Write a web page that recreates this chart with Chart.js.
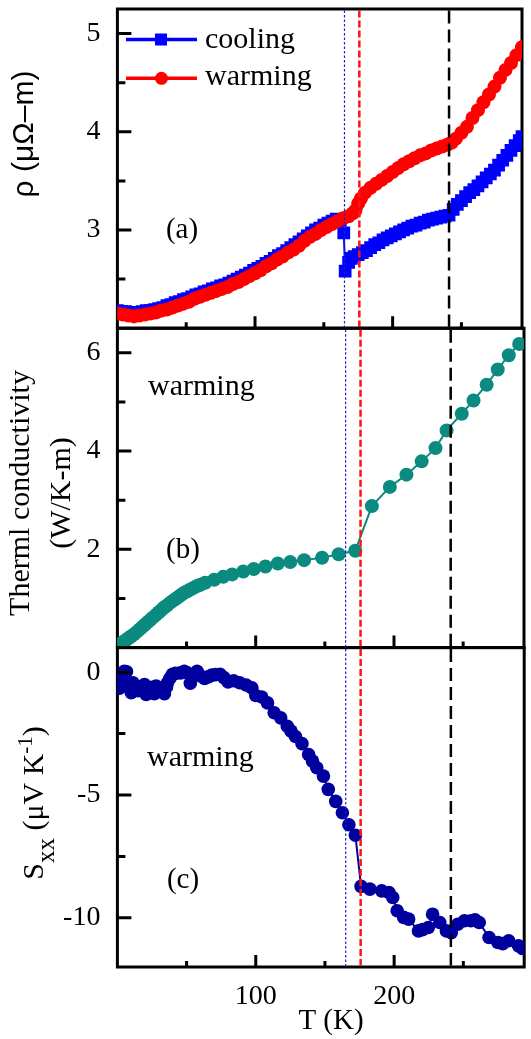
<!DOCTYPE html>
<html>
<head>
<meta charset="utf-8">
<title>rho, thermal conductivity and Sxx versus T</title>
<script src="https://cdn.jsdelivr.net/npm/chart.js@4.4.1/dist/chart.umd.min.js"></script>
<style>
  html, body { margin:0; padding:0; background:#ffffff; }
  #wrap { position:relative; width:531px; height:1039px; overflow:hidden; background:#ffffff; }
  #wrap canvas { position:absolute; left:0; top:0; width:531px; height:1039px; }
</style>
</head>
<body>
<div id="wrap">
  <canvas id="chartA" width="531" height="1039"></canvas>
  <canvas id="chartB" width="531" height="1039"></canvas>
  <canvas id="chartC" width="531" height="1039"></canvas>
</div>
<script>
// ---------------- data ----------------
const xRange = [0, 294];
const xTickLabels = [100, 200];
const xMinorTicks = [50, 150, 250];

// panel (a): resistivity, micro-ohm m
const rhoRange = [2, 5.25];
const rhoTickLabels = [3, 4, 5];
const rhoMinorTicks = [2.5, 3.5, 4.5];

const coolT = [0,3,6,9,12,15,18,21,24,27,30,33,36,39,42,45,48,51,54,57,60,63,66,69,72,75,78,81,84,87,90,93,96,99,102,105,108,111,114,117,120,123,126,129,132,135,138,141,144,147,150,153,156,159,162,164.5,165.5,168,170,172,175,178,181,184,187,190,193,196,199,202,205,208,211,214,217,220,223,226,229,232,235,238,241,244,247,250,253,256,259,262,265,268,271,274,277,280,283,286,289,292,294];
const coolRho = [2.18,2.17,2.17,2.16,2.15,2.16,2.17,2.18,2.18,2.19,2.20,2.21,2.23,2.24,2.26,2.27,2.29,2.30,2.32,2.34,2.35,2.37,2.38,2.40,2.41,2.43,2.44,2.46,2.48,2.50,2.52,2.54,2.56,2.59,2.61,2.63,2.66,2.68,2.71,2.74,2.76,2.79,2.82,2.85,2.88,2.91,2.94,2.97,3.00,3.02,3.05,3.07,3.09,3.11,3.10,2.97,2.58,2.67,2.71,2.73,2.75,2.77,2.79,2.82,2.85,2.87,2.90,2.92,2.94,2.96,2.98,3.00,3.02,3.04,3.05,3.07,3.08,3.10,3.11,3.12,3.13,3.14,3.15,3.21,3.26,3.30,3.34,3.38,3.41,3.45,3.49,3.53,3.57,3.61,3.66,3.71,3.76,3.81,3.86,3.91,3.95];

const warmT = [0,4,8,12,16,20,24,28,32,36,40,44,48,52,56,60,64,68,72,76,80,84,88,92,96,100,104,108,112,116,120,124,128,132,136,140,144,148,152,156,160,164,168,171,173,175,177,180,184,188,192,196,200,204,208,212,216,220,224,228,232,236,240,243,246,250,254,258,262,266,270,274,278,282,286,290,294];
const warmRho = [2.15,2.14,2.13,2.12,2.13,2.14,2.15,2.16,2.18,2.19,2.21,2.23,2.25,2.27,2.30,2.32,2.34,2.36,2.38,2.40,2.42,2.45,2.47,2.50,2.53,2.56,2.59,2.63,2.66,2.70,2.73,2.77,2.80,2.84,2.89,2.93,2.96,3.00,3.03,3.06,3.09,3.12,3.14,3.17,3.20,3.27,3.32,3.38,3.43,3.47,3.51,3.55,3.59,3.63,3.67,3.70,3.73,3.76,3.78,3.81,3.83,3.85,3.87,3.89,3.93,3.99,4.05,4.14,4.22,4.30,4.38,4.46,4.55,4.63,4.70,4.78,4.86];

// panel (b): thermal conductivity, W/K-m (warming)
const kRange = [0, 6.5];
const kTickLabels = [2, 4, 6];
const kMinorTicks = [1, 3, 5];
const kT = [0,2,4,6,8,10,12,14,16,18,20,22,24,26,28,30,32,34,36,38,40,42,44,46,48,50,52,54,56,58,60,63.5,70,76.5,83,91,98.6,107,116,125,135,148,160,172,184,197,209,220,230,238,249,257.5,267,275,283,290.5];
const kVal = [0.06,0.08,0.11,0.15,0.19,0.23,0.27,0.32,0.37,0.42,0.47,0.52,0.57,0.62,0.67,0.72,0.77,0.82,0.86,0.91,0.95,0.99,1.03,1.07,1.11,1.14,1.17,1.20,1.23,1.26,1.28,1.32,1.38,1.44,1.49,1.55,1.60,1.65,1.71,1.74,1.78,1.83,1.90,1.97,2.88,3.27,3.52,3.79,4.06,4.42,4.76,5.03,5.35,5.66,5.95,6.18];

// panel (c): Seebeck Sxx, microV/K (warming)
const sRange = [-12, 1];
const sTickLabels = [0, -5, -10];
const sMinorTicks = [-2.5, -7.5];
const sT = [1,1.5,3,4,5,6.6,8,10,11.3,13,15,17,19.6,20.8,23,25,26.7,28,30,32,34,35.5,36.2,38,39.8,42,45.7,48.3,50.5,52.7,54.5,57.6,60,63,66,68.2,71,74.2,77,80,84,88.4,93,97.2,100,104.3,108.5,113.3,118,122.8,125.5,128.7,133.4,138.2,141,144.1,148.9,152.4,157.8,162.6,167.3,172,176.1,182.5,191,196.3,199,202.2,206.9,210.5,217.6,220.5,224.7,227.8,233,237.8,241.3,246,250.8,255.5,258.5,261.5,268.6,275,278.5,282.8,289.9,293];
const sVal = [-0.30,-0.65,-0.20,-0.55,0.04,0.02,-0.55,-0.84,-0.43,-0.65,-0.75,-0.60,-0.50,-0.91,-0.70,-0.62,-0.88,-0.57,-0.70,-0.65,-0.88,-0.60,-0.43,-0.25,-0.09,-0.05,-0.03,0.04,-0.03,-0.45,-0.10,0.04,-0.15,-0.26,-0.18,-0.12,-0.10,-0.09,-0.22,-0.40,-0.35,-0.43,-0.52,-0.64,-0.95,-1.01,-1.25,-1.65,-1.86,-2.20,-2.40,-2.62,-2.91,-3.35,-3.62,-3.89,-4.23,-4.77,-5.26,-5.72,-6.21,-6.64,-8.72,-8.83,-8.90,-8.97,-9.17,-9.71,-9.98,-10.05,-10.53,-10.48,-10.39,-9.85,-10.19,-10.53,-10.60,-10.26,-10.12,-10.12,-10.08,-10.19,-10.80,-11.00,-11.05,-10.93,-11.14,-11.25];

// transition temperatures marked by vertical lines (K)
const markerT = [165, 175.8, 241];

// ---------------- layout / style ----------------
const SERIF = '"Liberation Serif", "Times New Roman", Times, serif';
const SANS = '"Liberation Sans", Arial, Helvetica, sans-serif';
const AXIS_W = 117.4;
const PANELS = { a: [8.7, 328.2], b: [328.2, 647.6], c: [647.6, 967] };
const H = 1039;

const pts = (xs, ys) => xs.map((x, i) => ({ x: x, y: ys[i] }));

function rotText(ctx, text, bx, cy, font) {
  ctx.save();
  ctx.translate(bx, cy);
  ctx.rotate(-Math.PI / 2);
  ctx.font = font; ctx.fillStyle = '#000';
  ctx.textAlign = 'center'; ctx.textBaseline = 'alphabetic';
  ctx.fillText(text, 0, 0);
  ctx.restore();
}
function rotRich(ctx, parts, bx, cy) {
  ctx.save();
  ctx.translate(bx, cy);
  ctx.rotate(-Math.PI / 2);
  ctx.fillStyle = '#000'; ctx.textAlign = 'left'; ctx.textBaseline = 'alphabetic';
  let total = 0;
  parts.forEach(p => { ctx.font = p.font; p.w = ctx.measureText(p.t).width; total += p.w; });
  let u = -total / 2;
  parts.forEach(p => { ctx.font = p.font; ctx.fillText(p.t, u, p.dy); u += p.w; });
  ctx.restore();
}
function text(ctx, t, x, y, font, align, base) {
  ctx.font = font; ctx.fillStyle = '#000';
  ctx.textAlign = align || 'left'; ctx.textBaseline = base || 'alphabetic';
  ctx.fillText(t, x, y);
}

function decoPlugin(yMajor, yMinor, drawExtra) {
  return {
    id: 'deco',
    beforeDatasetsDraw(chart) {
      const { ctx, chartArea: a } = chart;
      ctx.save();
      ctx.strokeStyle = '#000'; ctx.lineWidth = 3;
      ctx.strokeRect(a.left, a.top, a.right - a.left, a.bottom - a.top);
      ctx.restore();
    },
    afterDatasetsDraw(chart) {
      const { ctx, chartArea: a } = chart;
      const xs = chart.scales.x, ys = chart.scales.y;
      ctx.save();
      const styles = [
        { color: '#1f1fc8', w: 1.2, dash: [2.5, 2] },
        { color: '#ff1414', w: 2.5, dash: [7, 3] },
        { color: '#000000', w: 2.5, dash: [13, 6] }
      ];
      markerT.forEach((t, i) => {
        const s = styles[i];
        const px = xs.getPixelForValue(t);
        ctx.beginPath(); ctx.setLineDash(s.dash);
        ctx.lineWidth = s.w; ctx.strokeStyle = s.color;
        ctx.moveTo(px, a.top + 1.5); ctx.lineTo(px, a.bottom - 1.5); ctx.stroke();
      });
      ctx.setLineDash([]);
      ctx.strokeStyle = '#000'; ctx.lineWidth = 3;
      ctx.beginPath();
      xTickLabels.forEach(v => { const p = xs.getPixelForValue(v); ctx.moveTo(p, a.bottom); ctx.lineTo(p, a.bottom - 12); });
      xMinorTicks.forEach(v => { const p = xs.getPixelForValue(v); ctx.moveTo(p, a.bottom); ctx.lineTo(p, a.bottom - 6); });
      yMajor.forEach(v => { const p = ys.getPixelForValue(v); ctx.moveTo(a.left, p); ctx.lineTo(a.left + 14, p); });
      yMinor.forEach(v => { const p = ys.getPixelForValue(v); ctx.moveTo(a.left, p); ctx.lineTo(a.left + 8, p); });
      ctx.stroke();
      if (drawExtra) drawExtra(ctx, chart);
      ctx.restore();
    }
  };
}

function makeOptions(range, yLabels, panel, showX) {
  const top = panel[0], bottom = panel[1];
  return {
    responsive: false, animation: false, events: [],
    layout: { padding: { left: 0, right: 1, top: top, bottom: showX ? 0 : H - bottom } },
    plugins: { legend: { display: false }, tooltip: { enabled: false }, title: { display: false } },
    scales: {
      x: {
        type: 'linear', min: xRange[0], max: xRange[1], display: showX,
        afterBuildTicks: s => { s.ticks = xTickLabels.map(v => ({ value: v })); },
        afterFit: s => { s.height = showX ? H - bottom : 0; s.paddingLeft = 0; s.paddingRight = 0; s.paddingTop = 0; s.paddingBottom = 0; },
        grid: { display: false, drawTicks: false }, border: { display: false },
        ticks: { padding: 13, color: '#000', maxRotation: 0, autoSkip: false,
                 font: { family: SERIF, size: 28 }, callback: v => String(v) }
      },
      y: {
        type: 'linear', position: 'left', min: range[0], max: range[1],
        afterBuildTicks: s => { s.ticks = yLabels.map(v => ({ value: v })); },
        afterFit: s => { s.width = AXIS_W; s.paddingTop = 0; s.paddingBottom = 0; s.paddingLeft = 0; s.paddingRight = 0; },
        grid: { display: false, drawTicks: false }, border: { display: false },
        ticks: { padding: 17, color: '#000', font: { family: SERIF, size: 28 }, callback: v => String(v) }
      }
    }
  };
}

// ---------------- panel (a) ----------------
new Chart(document.getElementById('chartA'), {
  type: 'line',
  data: { datasets: [
    { label: 'warming', data: pts(warmT, warmRho), borderColor: '#ff0000', borderWidth: 2,
      pointStyle: 'circle', pointRadius: 7, pointBorderWidth: 0, pointBackgroundColor: '#ff0000' },
    { label: 'cooling', data: pts(coolT, coolRho), borderColor: '#0000ff', borderWidth: 2,
      pointStyle: 'rect', pointRadius: 9, pointBorderWidth: 0, pointBackgroundColor: '#0000ff' }
  ]},
  options: makeOptions(rhoRange, rhoTickLabels, PANELS.a, false),
  plugins: [decoPlugin(rhoTickLabels, rhoMinorTicks, (ctx) => {
    rotText(ctx, 'ρ (μΩ–m)', 33, 134, '30px ' + SANS);
    text(ctx, '(a)', 182, 230, '29px ' + SERIF, 'center', 'middle');
    // legend
    ctx.lineWidth = 3.5;
    ctx.strokeStyle = '#0000ff';
    ctx.beginPath(); ctx.moveTo(126, 39.5); ctx.lineTo(197, 39.5); ctx.stroke();
    ctx.fillStyle = '#0000ff'; ctx.fillRect(155, 33.5, 12, 12);
    ctx.strokeStyle = '#ff0000';
    ctx.beginPath(); ctx.moveTo(126, 78.3); ctx.lineTo(197, 78.3); ctx.stroke();
    ctx.fillStyle = '#ff0000'; ctx.beginPath(); ctx.arc(161.5, 78.3, 6.5, 0, Math.PI * 2); ctx.fill();
    text(ctx, 'cooling', 205, 48, '30px ' + SERIF);
    text(ctx, 'warming', 205, 85, '30px ' + SERIF);
  })]
});

// ---------------- panel (b) ----------------
new Chart(document.getElementById('chartB'), {
  type: 'line',
  data: { datasets: [
    { label: 'Therml conductivity (warming)', data: pts(kT, kVal), borderColor: '#0b8a80', borderWidth: 2,
      pointStyle: 'circle', pointRadius: 7, pointBorderWidth: 0, pointBackgroundColor: '#0b8a80' }
  ]},
  options: makeOptions(kRange, kTickLabels, PANELS.b, false),
  plugins: [decoPlugin(kTickLabels, kMinorTicks, (ctx) => {
    rotText(ctx, 'Therml conductivity', 29, 493, '30px ' + SERIF);
    rotText(ctx, '(W/K-m)', 70, 493, '30px ' + SERIF);
    text(ctx, '(b)', 183, 550, '29px ' + SERIF, 'center', 'middle');
    text(ctx, 'warming', 148, 395, '30px ' + SERIF);
  })]
});

// ---------------- panel (c) ----------------
new Chart(document.getElementById('chartC'), {
  type: 'line',
  data: { datasets: [
    { label: 'Sxx (warming)', data: pts(sT, sVal), borderColor: '#00009f', borderWidth: 2,
      pointStyle: 'circle', pointRadius: 6.8, pointBorderWidth: 0, pointBackgroundColor: '#00009f' }
  ]},
  options: makeOptions(sRange, sTickLabels, PANELS.c, true),
  plugins: [decoPlugin(sTickLabels, sMinorTicks, (ctx) => {
    rotRich(ctx, [
      { t: 'S', font: '30px ' + SERIF, dy: 0 },
      { t: 'xx', font: '25px ' + SERIF, dy: 11 },
      { t: ' (μV K', font: '30px ' + SERIF, dy: 0 },
      { t: '-1', font: '21px ' + SERIF, dy: -11 },
      { t: ')', font: '30px ' + SERIF, dy: 0 }
    ], 43, 803);
    text(ctx, '(c)', 183, 880, '29px ' + SERIF, 'center', 'middle');
    text(ctx, 'warming', 147, 766, '30px ' + SERIF);
    text(ctx, 'T (K)', 331, 1021, '29px ' + SERIF, 'center', 'middle');
  })]
});
</script>
</body>
</html>
